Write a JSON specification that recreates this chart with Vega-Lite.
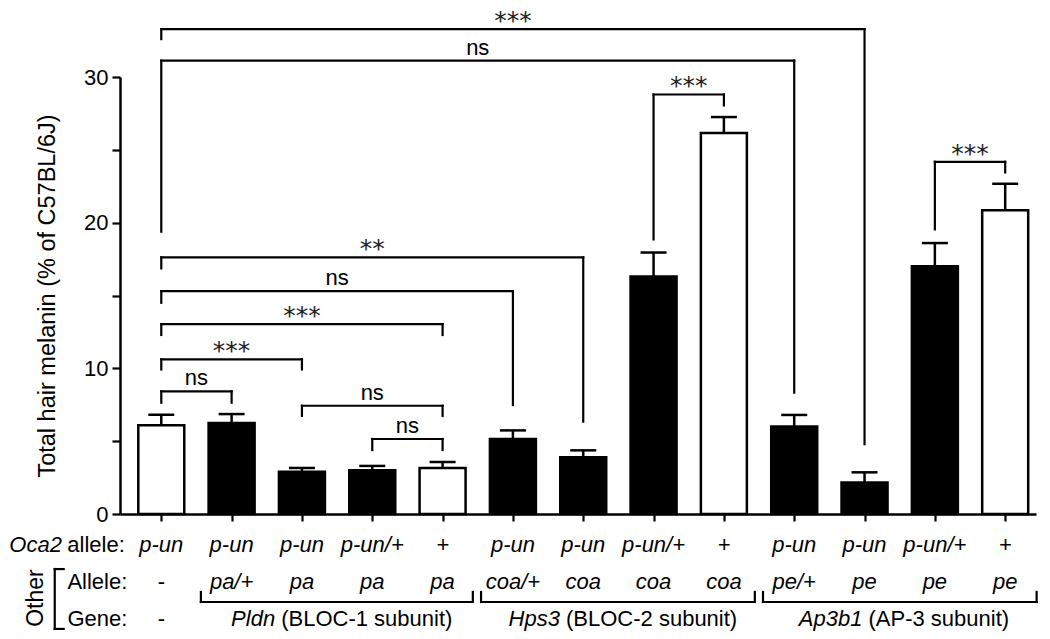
{
  "$schema": "https://vega.github.io/schema/vega-lite/v6.json",
  "width": 916,
  "height": 437,
  "autosize": {"type": "none"},
  "padding": {"left": 120, "top": 77, "right": 14, "bottom": 125},
  "background": "white",
  "config": {
    "view": {"stroke": null},
    "font": "Liberation Sans",
    "text": {"font": "Liberation Sans", "fontSize": 22, "color": "black"},
    "rule": {"color": "black"}
  },
  "datasets": {
    "bars": [
      {"col": 1, "mean": 6.1, "upper": 6.82, "kind": "open"},
      {"col": 2, "mean": 6.25, "upper": 6.86, "kind": "filled"},
      {"col": 3, "mean": 2.9, "upper": 3.16, "kind": "filled"},
      {"col": 4, "mean": 3.0, "upper": 3.3, "kind": "filled"},
      {"col": 5, "mean": 3.15, "upper": 3.57, "kind": "open"},
      {"col": 6, "mean": 5.15, "upper": 5.74, "kind": "filled"},
      {"col": 7, "mean": 3.9, "upper": 4.37, "kind": "filled"},
      {"col": 8, "mean": 16.3, "upper": 17.95, "kind": "filled"},
      {"col": 9, "mean": 26.15, "upper": 27.25, "kind": "open"},
      {"col": 10, "mean": 6.0, "upper": 6.8, "kind": "filled"},
      {"col": 11, "mean": 2.17, "upper": 2.86, "kind": "filled"},
      {"col": 12, "mean": 17.0, "upper": 18.6, "kind": "filled"},
      {"col": 13, "mean": 20.85, "upper": 22.67, "kind": "open"}
    ],
    "brackets": [
      {"id": "A", "x1": 1, "x2": 11, "h": 33.29, "l1": 32.6, "l2": 4.8, "label": "***"},
      {"id": "B", "x1": 1, "x2": 10, "h": 31.13, "l1": 19.38, "l2": 8.33, "label": "ns"},
      {"id": "C", "x1": 8, "x2": 9, "h": 28.8, "l1": 18.85, "l2": 28.05, "label": "***"},
      {"id": "D", "x1": 12, "x2": 13, "h": 24.18, "l1": 19.54, "l2": 23.45, "label": "***"},
      {"id": "E", "x1": 1, "x2": 7, "h": 17.62, "l1": 16.86, "l2": 6.34, "label": "**"},
      {"id": "F", "x1": 1, "x2": 6, "h": 15.3, "l1": 14.5, "l2": 7.48, "label": "ns"},
      {"id": "G", "x1": 1, "x2": 5, "h": 13.04, "l1": 12.29, "l2": 12.29, "label": "***"},
      {"id": "H", "x1": 1, "x2": 3, "h": 10.62, "l1": 9.92, "l2": 9.92, "label": "***"},
      {"id": "I", "x1": 1, "x2": 2, "h": 8.42, "l1": 7.64, "l2": 7.64, "label": "ns"},
      {"id": "J", "x1": 3, "x2": 5, "h": 7.43, "l1": 6.73, "l2": 6.73, "label": "ns"},
      {"id": "K", "x1": 4, "x2": 5, "h": 5.15, "l1": 4.39, "l2": 4.39, "label": "ns"}
    ],
    "table": [
      {"col": 1, "row": -2.13, "text": "p-un", "kind": "geno"},
      {"col": 2, "row": -2.13, "text": "p-un", "kind": "geno"},
      {"col": 3, "row": -2.13, "text": "p-un", "kind": "geno"},
      {"col": 4, "row": -2.13, "text": "p-un/+", "kind": "geno"},
      {"col": 5, "row": -2.13, "text": "+", "kind": "geno"},
      {"col": 6, "row": -2.13, "text": "p-un", "kind": "geno"},
      {"col": 7, "row": -2.13, "text": "p-un", "kind": "geno"},
      {"col": 8, "row": -2.13, "text": "p-un/+", "kind": "geno"},
      {"col": 9, "row": -2.13, "text": "+", "kind": "geno"},
      {"col": 10, "row": -2.13, "text": "p-un", "kind": "geno"},
      {"col": 11, "row": -2.13, "text": "p-un", "kind": "geno"},
      {"col": 12, "row": -2.13, "text": "p-un/+", "kind": "geno"},
      {"col": 13, "row": -2.13, "text": "+", "kind": "geno"},
      {"col": 1, "row": -4.67, "text": "-", "kind": "none"},
      {"col": 2, "row": -4.67, "text": "pa/+", "kind": "geno"},
      {"col": 3, "row": -4.67, "text": "pa", "kind": "geno"},
      {"col": 4, "row": -4.67, "text": "pa", "kind": "geno"},
      {"col": 5, "row": -4.67, "text": "pa", "kind": "geno"},
      {"col": 6, "row": -4.67, "text": "coa/+", "kind": "geno"},
      {"col": 7, "row": -4.67, "text": "coa", "kind": "geno"},
      {"col": 8, "row": -4.67, "text": "coa", "kind": "geno"},
      {"col": 9, "row": -4.67, "text": "coa", "kind": "geno"},
      {"col": 10, "row": -4.67, "text": "pe/+", "kind": "geno"},
      {"col": 11, "row": -4.67, "text": "pe", "kind": "geno"},
      {"col": 12, "row": -4.67, "text": "pe", "kind": "geno"},
      {"col": 13, "row": -4.67, "text": "pe", "kind": "geno"},
      {"col": 1, "row": -7.21, "text": "-", "kind": "none"},
      {"col": -1.161, "row": -2.13, "text": "Oca2", "kind": "rowsym"},
      {"col": -0.336, "row": -2.13, "text": "allele:", "kind": "rowname"},
      {"col": -0.335, "row": -4.67, "text": "Allele:", "kind": "rowname"},
      {"col": -0.335, "row": -7.21, "text": "Gene:", "kind": "rowname"},
      {"col": 2.619, "row": -7.21, "text": "Pldn", "kind": "gene"},
      {"col": 2.705, "row": -7.21, "text": "(BLOC-1 subunit)", "kind": "desc"},
      {"col": 6.669, "row": -7.21, "text": "Hps3", "kind": "gene"},
      {"col": 6.755, "row": -7.21, "text": "(BLOC-2 subunit)", "kind": "desc"},
      {"col": 10.97, "row": -7.21, "text": "Ap3b1", "kind": "gene"},
      {"col": 11.056, "row": -7.21, "text": "(AP-3 subunit)", "kind": "desc"},
      {"col": -0.782, "row": -5.77, "text": "Other", "kind": "side"}
    ],
    "groups": [
      {"gene": "Pldn", "start": 1.563, "end": 5.43, "line": -6.04, "tip": -5.35},
      {"gene": "Hps3", "start": 5.547, "end": 9.44, "line": -6.04, "tip": -5.35},
      {"gene": "Ap3b1", "start": 9.556, "end": 13.447, "line": -6.04, "tip": -5.35}
    ],
    "side": [
      {"left": -0.515, "right": -0.388, "top": -3.78, "bottom": -7.89}
    ]
  },
  "layer": [
    {
      "data": {"name": "bars"},
      "mark": {"type": "bar", "size": 46, "stroke": "black", "strokeWidth": 2.5},
      "encoding": {
        "x": {
          "field": "col", "type": "quantitative",
          "scale": {"domain": [0.484, 13.367], "nice": false, "zero": false},
          "axis": {
            "values": [1, 2, 3, 4, 5, 6, 7, 8, 9, 10, 11, 12, 13],
            "labels": false, "title": null, "grid": false,
            "tickSize": 7, "tickWidth": 2.2, "tickColor": "black",
            "domainColor": "black", "domainWidth": 2.5
          }
        },
        "y": {
          "field": "mean", "type": "quantitative", "stack": null,
          "scale": {"domain": [0, 30], "nice": false},
          "axis": {
            "values": [0, 5, 10, 15, 20, 25, 30],
            "labelExpr": "datum.value % 10 === 0 ? datum.label : ''",
            "grid": false, "tickSize": 8, "tickWidth": 2.2, "tickColor": "black",
            "domainColor": "black", "domainWidth": 2.5,
            "labelFont": "Liberation Sans", "labelFontSize": 22, "labelColor": "black", "labelPadding": 4,
            "title": "Total hair melanin (% of C57BL/6J)",
            "titleFont": "Liberation Sans", "titleFontSize": 23.5, "titleFontWeight": "normal",
            "titleColor": "black", "titlePadding": 24
          }
        },
        "fill": {
          "field": "kind", "type": "nominal",
          "scale": {"domain": ["open", "filled"], "range": ["white", "black"]},
          "legend": null
        }
      }
    },
    {
      "data": {"name": "bars"},
      "mark": {"type": "rule", "strokeWidth": 2.5},
      "encoding": {
        "x": {"field": "col", "type": "quantitative"},
        "y": {"field": "mean", "type": "quantitative"},
        "y2": {"field": "upper"}
      }
    },
    {
      "data": {"name": "bars"},
      "mark": {"type": "tick", "orient": "horizontal", "size": 26, "thickness": 2.5, "color": "black", "opacity": 1},
      "encoding": {
        "x": {"field": "col", "type": "quantitative"},
        "y": {"field": "upper", "type": "quantitative"}
      }
    },
    {
      "data": {"name": "brackets"},
      "mark": {"type": "rule", "strokeWidth": 2.2, "strokeCap": "square"},
      "encoding": {
        "x": {"field": "x1", "type": "quantitative"},
        "x2": {"field": "x2"},
        "y": {"field": "h", "type": "quantitative"}
      }
    },
    {
      "data": {"name": "brackets"},
      "mark": {"type": "rule", "strokeWidth": 2.2, "strokeCap": "square"},
      "encoding": {
        "x": {"field": "x1", "type": "quantitative"},
        "y": {"field": "l1", "type": "quantitative"},
        "y2": {"field": "h"}
      }
    },
    {
      "data": {"name": "brackets"},
      "mark": {"type": "rule", "strokeWidth": 2.2, "strokeCap": "square"},
      "encoding": {
        "x": {"field": "x2", "type": "quantitative"},
        "y": {"field": "l2", "type": "quantitative"},
        "y2": {"field": "h"}
      }
    },
    {
      "data": {"name": "brackets"},
      "transform": [
        {"filter": "datum.label === 'ns'"},
        {"fold": ["x1", "x2"], "as": ["end", "xpos"]}
      ],
      "mark": {"type": "text", "baseline": "alphabetic", "align": "center", "dy": -6, "fontSize": 22},
      "encoding": {
        "x": {"aggregate": "mean", "field": "xpos", "type": "quantitative"},
        "y": {"field": "h", "type": "quantitative"},
        "detail": {"field": "id"},
        "text": {"field": "label"}
      }
    },
    {
      "data": {"name": "brackets"},
      "transform": [
        {"filter": "datum.label !== 'ns'"},
        {"fold": ["x1", "x2"], "as": ["end", "xpos"]}
      ],
      "mark": {"type": "text", "baseline": "alphabetic", "align": "center", "dy": 0, "fontSize": 25, "font": "DejaVu Sans", "color": "#222222"},
      "encoding": {
        "x": {"aggregate": "mean", "field": "xpos", "type": "quantitative"},
        "y": {"field": "h", "type": "quantitative"},
        "detail": {"field": "id"},
        "text": {"field": "label"}
      }
    },
    {
      "data": {"name": "table"},
      "transform": [{"filter": "datum.kind === 'geno'"}],
      "mark": {"type": "text", "align": "center", "baseline": "middle", "fontStyle": "italic", "fontSize": 22},
      "encoding": {
        "x": {"field": "col", "type": "quantitative"},
        "y": {"field": "row", "type": "quantitative"},
        "text": {"field": "text"}
      }
    },
    {
      "data": {"name": "table"},
      "transform": [{"filter": "datum.kind === 'none'"}],
      "mark": {"type": "text", "align": "center", "baseline": "middle", "fontSize": 22},
      "encoding": {
        "x": {"field": "col", "type": "quantitative"},
        "y": {"field": "row", "type": "quantitative"},
        "text": {"field": "text"}
      }
    },
    {
      "data": {"name": "table"},
      "transform": [{"filter": "datum.kind === 'rowsym'"}],
      "mark": {"type": "text", "align": "left", "baseline": "middle", "fontStyle": "italic", "fontSize": 22},
      "encoding": {
        "x": {"field": "col", "type": "quantitative"},
        "y": {"field": "row", "type": "quantitative"},
        "text": {"field": "text"}
      }
    },
    {
      "data": {"name": "table"},
      "transform": [{"filter": "datum.kind === 'rowname' || datum.kind === 'desc'"}],
      "mark": {"type": "text", "align": "left", "baseline": "middle", "fontSize": 22},
      "encoding": {
        "x": {"field": "col", "type": "quantitative"},
        "y": {"field": "row", "type": "quantitative"},
        "text": {"field": "text"}
      }
    },
    {
      "data": {"name": "table"},
      "transform": [{"filter": "datum.kind === 'gene'"}],
      "mark": {"type": "text", "align": "right", "baseline": "middle", "fontStyle": "italic", "fontSize": 22},
      "encoding": {
        "x": {"field": "col", "type": "quantitative"},
        "y": {"field": "row", "type": "quantitative"},
        "text": {"field": "text"}
      }
    },
    {
      "data": {"name": "table"},
      "transform": [{"filter": "datum.kind === 'side'"}],
      "mark": {"type": "text", "align": "center", "baseline": "middle", "angle": 270, "fontSize": 23},
      "encoding": {
        "x": {"field": "col", "type": "quantitative"},
        "y": {"field": "row", "type": "quantitative"},
        "text": {"field": "text"}
      }
    },
    {
      "data": {"name": "groups"},
      "mark": {"type": "rule", "strokeWidth": 2.2, "strokeCap": "square"},
      "encoding": {
        "x": {"field": "start", "type": "quantitative"},
        "x2": {"field": "end"},
        "y": {"field": "line", "type": "quantitative"}
      }
    },
    {
      "data": {"name": "groups"},
      "mark": {"type": "rule", "strokeWidth": 2.2, "strokeCap": "square"},
      "encoding": {
        "x": {"field": "start", "type": "quantitative"},
        "y": {"field": "tip", "type": "quantitative"},
        "y2": {"field": "line"}
      }
    },
    {
      "data": {"name": "groups"},
      "mark": {"type": "rule", "strokeWidth": 2.2, "strokeCap": "square"},
      "encoding": {
        "x": {"field": "end", "type": "quantitative"},
        "y": {"field": "tip", "type": "quantitative"},
        "y2": {"field": "line"}
      }
    },
    {
      "data": {"name": "side"},
      "mark": {"type": "rule", "strokeWidth": 2.2, "strokeCap": "square"},
      "encoding": {
        "x": {"field": "left", "type": "quantitative"},
        "y": {"field": "top", "type": "quantitative"},
        "y2": {"field": "bottom"}
      }
    },
    {
      "data": {"name": "side"},
      "mark": {"type": "rule", "strokeWidth": 2.2, "strokeCap": "square"},
      "encoding": {
        "x": {"field": "left", "type": "quantitative"},
        "x2": {"field": "right"},
        "y": {"field": "top", "type": "quantitative"}
      }
    },
    {
      "data": {"name": "side"},
      "mark": {"type": "rule", "strokeWidth": 2.2, "strokeCap": "square"},
      "encoding": {
        "x": {"field": "left", "type": "quantitative"},
        "x2": {"field": "right"},
        "y": {"field": "bottom", "type": "quantitative"}
      }
    }
  ]
}
